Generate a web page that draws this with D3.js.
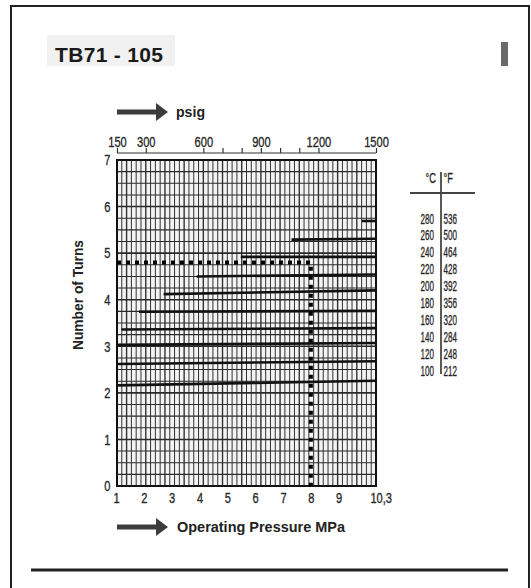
<!DOCTYPE html>
<html>
<head>
<meta charset="utf-8">
<script src="https://cdn.jsdelivr.net/npm/d3@7"></script>
<style>
  body { margin: 0; background: #fff; }
  svg { display: block; }
  text { font-family: "Liberation Sans", Arial, sans-serif; }
</style>
</head>
<body>
<svg id="chart" width="531" height="588"></svg>
<script>
// Chart data
const tempC = [280, 260, 240, 220, 200, 180, 160, 140, 120, 100];
const tempF = [536, 500, 464, 428, 392, 356, 320, 284, 248, 212];
// pressure (psig) where each temperature line starts; it runs to the right edge
const startPsig = [1427, 1060, 795, 565, 393, 265, 173, 150, 150, 150];
const turnsAtStart = [5.69, 5.29, 4.92, 4.50, 4.12, 3.74, 3.36, 3.03, 2.62, 2.16];
const turnsAtEnd = [5.69, 5.31, 4.92, 4.54, 4.20, 3.76, 3.39, 3.07, 2.68, 2.26];

const mpaTicks = [1, 2, 3, 4, 5, 6, 7, 8, 9, 10.3];
const psigTicks = [150, 300, 600, 700, 800, 900, 1000, 1100, 1200, 1500];
const psigLabels = [150, 300, 600, 900, 1200, 1500];
const turnTicks = [0, 1, 2, 3, 4, 5, 6, 7];

// worked example: 8 MPa operating pressure -> 4.8 turns
const exampleMpa = 8;
const exampleTurns = 4.8;

const PSI_PER_MPA = 145.038;

const svg = d3.select('#chart');
const plotLeft = 117, plotRight = 376, plotTop = 160, plotBottom = 486;

const x = d3.scaleLinear().domain([150, 1500]).range([plotLeft, plotRight]);
const xMpa = d3.scaleLinear().domain([150 / PSI_PER_MPA, 1500 / PSI_PER_MPA]).range([plotLeft, plotRight]);
const y = d3.scaleLinear().domain([0, 7]).range([plotBottom, plotTop]);

// squeeze text horizontally to look like a condensed face
function condense(sel, k) {
    sel.attr('transform', `scale(${k},1)`);
}

// page frame
svg.append('path')
    .attr('d', 'M11,588 V6 H529 V588')
    .attr('fill', 'none')
    .attr('stroke', '#222')
    .attr('stroke-width', 2);

// title
svg.append('rect')
    .attr('x', 47).attr('y', 35).attr('width', 128).attr('height', 31)
    .attr('fill', '#f1f1f1');
svg.append('text')
    .attr('x', 55).attr('y', 62)
    .attr('font-weight', 'bold')
    .attr('font-size', 21)
    .attr('fill', '#1a1a1a')
    .attr('textLength', 108)
    .text('TB71 - 105');

// grey tab at the top right
svg.append('rect')
    .attr('x', 501).attr('y', 42).attr('width', 7).attr('height', 24)
    .attr('fill', '#6a6a6a');

// bottom rule
svg.append('line')
    .attr('x1', 31).attr('x2', 508).attr('y1', 570).attr('y2', 570)
    .attr('stroke', '#222').attr('stroke-width', 3);

// grid
const grid = svg.append('g');
grid.append('rect')
    .attr('x', plotLeft).attr('y', plotTop)
    .attr('width', plotRight - plotLeft).attr('height', plotBottom - plotTop)
    .attr('fill', '#f3f3f3');
grid.selectAll('line.v')
    .data(d3.range(150, 1501, 25))
    .enter().append('line')
    .attr('class', 'v')
    .attr('x1', d => x(d)).attr('x2', d => x(d))
    .attr('y1', plotTop).attr('y2', plotBottom)
    .attr('stroke', '#333')
    .attr('stroke-width', d => (d % 100 === 0 ? 1.4 : 1));
grid.selectAll('line.h')
    .data(d3.range(0, 7.01, 0.25))
    .enter().append('line')
    .attr('class', 'h')
    .attr('x1', plotLeft).attr('x2', plotRight)
    .attr('y1', d => y(d)).attr('y2', d => y(d))
    .attr('stroke', '#2a2a2a')
    .attr('stroke-width', d => (d % 1 === 0 ? 1.6 : 1.1));

svg.append('rect')
    .attr('x', plotLeft).attr('y', plotTop)
    .attr('width', plotRight - plotLeft).attr('height', plotBottom - plotTop)
    .attr('fill', 'none')
    .attr('stroke', '#111')
    .attr('stroke-width', 2);

// temperature lines
svg.append('g')
    .selectAll('line')
    .data(tempC)
    .enter().append('line')
    .attr('x1', (d, i) => x(startPsig[i]))
    .attr('x2', plotRight)
    .attr('y1', (d, i) => y(turnsAtStart[i]))
    .attr('y2', (d, i) => y(turnsAtEnd[i]))
    .attr('stroke', '#111')
    .attr('stroke-width', 2.6);

// example read-off
svg.append('path')
    .attr('d', `M${plotLeft},${y(exampleTurns)} H${xMpa(exampleMpa)} V${plotBottom}`)
    .attr('fill', 'none')
    .attr('stroke', '#000')
    .attr('stroke-width', 4)
    .attr('stroke-dasharray', '4,5');

// axes
const yAxis = svg.append('g')
    .attr('transform', `translate(${plotLeft},0)`)
    .call(d3.axisLeft(y).tickValues(turnTicks).tickSize(0).tickPadding(9).tickFormat(d3.format('d')));
yAxis.select('.domain').remove();

const xAxis = svg.append('g')
    .attr('transform', `translate(0,${plotBottom})`)
    .call(d3.axisBottom(xMpa).tickValues(mpaTicks).tickSize(0).tickPadding(6)
        .tickFormat(d => (d === 10.3 ? '10,3' : d)));
xAxis.select('.domain').remove();
xAxis.selectAll('.tick text').filter(d => d === 10.3).attr('dx', 8);

const topAxis = svg.append('g')
    .attr('transform', 'translate(0,153)')
    .call(d3.axisTop(x).tickValues(psigTicks).tickSize(5).tickPadding(1)
        .tickFormat(d => (psigLabels.includes(d) ? d : '')));
topAxis.select('.domain').attr('stroke', '#333').attr('stroke-width', 1.2).attr('d', `M${plotLeft},0H${plotRight}`);
topAxis.selectAll('.tick line').attr('stroke', '#333').attr('stroke-width', 1.2);

svg.selectAll('.tick text')
    .attr('font-family', '"Liberation Sans", Arial, sans-serif')
    .attr('font-size', 15)
    .attr('fill', '#222')
    .attr('stroke', '#333')
    .attr('stroke-width', 0.35)
    .call(condense, 0.74);

// axis titles with arrows
function arrow(x0, yc) {
    svg.append('path')
        .attr('d', `M${x0},${yc - 2.5} H${x0 + 39} V${yc - 9} L${x0 + 51},${yc} L${x0 + 39},${yc + 9} V${yc + 2.5} H${x0} Z`)
        .attr('fill', '#3c3c3c');
}
arrow(117, 112);
arrow(117, 527);

svg.append('text')
    .attr('x', 176).attr('y', 117)
    .attr('font-size', 15).attr('font-weight', 'bold').attr('fill', '#222')
    .attr('textLength', 29).attr('lengthAdjust', 'spacingAndGlyphs')
    .text('psig');
svg.append('text')
    .attr('x', 177).attr('y', 532)
    .attr('font-size', 15).attr('font-weight', 'bold').attr('fill', '#222')
    .attr('textLength', 168).attr('lengthAdjust', 'spacingAndGlyphs')
    .text('Operating Pressure MPa');
svg.append('text')
    .attr('transform', 'translate(83,295) rotate(-90)')
    .attr('x', -55)
    .attr('font-size', 14).attr('font-weight', 'bold').attr('fill', '#222')
    .attr('textLength', 110).attr('lengthAdjust', 'spacingAndGlyphs')
    .text('Number of Turns');

// temperature table
const table = svg.append('g')
    .attr('fill', '#1e1e1e')
    .attr('stroke', '#333')
    .attr('stroke-width', 0.35);
table.append('line')
    .attr('x1', 441).attr('x2', 441).attr('y1', 172).attr('y2', 374)
    .attr('stroke', '#222').attr('stroke-width', 1.5);
table.append('line')
    .attr('x1', 410).attr('x2', 475).attr('y1', 193).attr('y2', 193)
    .attr('stroke', '#444').attr('stroke-width', 2);
table.append('text')
    .attr('transform', 'translate(436,183) scale(0.62,1)')
    .attr('text-anchor', 'end')
    .attr('font-size', 15).text('°C');
table.append('text')
    .attr('transform', 'translate(443.5,183) scale(0.62,1)')
    .attr('font-size', 15).text('°F');

const rowY = d3.scalePoint().domain(tempC).range([218, 370]);
table.selectAll('text.c')
    .data(tempC)
    .enter().append('text')
    .attr('class', 'c')
    .attr('transform', d => `translate(434,${rowY(d) + 5.5}) scale(0.54,1)`)
    .attr('text-anchor', 'end')
    .attr('font-size', 15)
    .text(d => d);
table.selectAll('text.f')
    .data(tempF)
    .enter().append('text')
    .attr('class', 'f')
    .attr('transform', (d, i) => `translate(443.5,${rowY(tempC[i]) + 5.5}) scale(0.54,1)`)
    .attr('font-size', 15)
    .text(d => d);
</script>
</body>
</html>
